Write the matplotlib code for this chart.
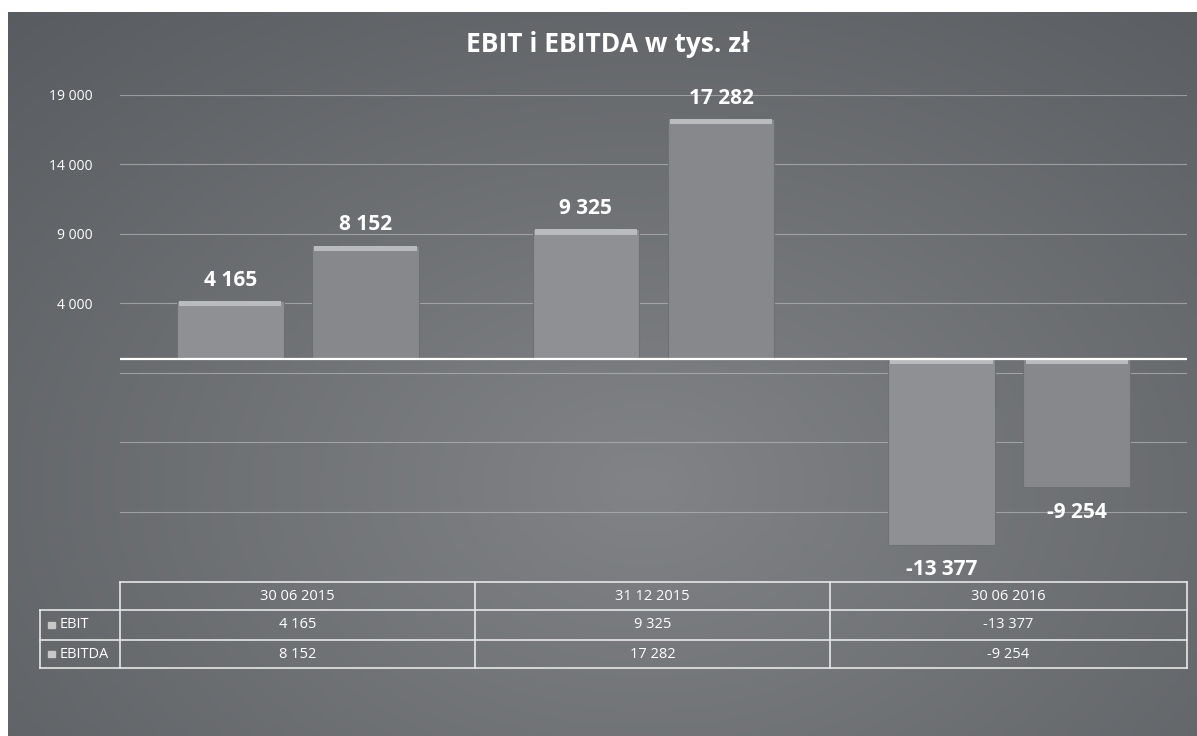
import numpy as np
import matplotlib.pyplot as plt
from matplotlib.patches import Rectangle

plt.rcParams['font.family'] = ['Open Sans', 'DejaVu Sans']

# --------------------------------------------------------------------------
# data
categories = ['30 06 2015', '31 12 2015', '30 06 2016']
series = ['EBIT', 'EBITDA']
ebit = [4165, 9325, -13377]
ebitda = [8152, 17282, -9254]
grid_ticks = [19000, 14000, 9000, 4000, -1000, -6000, -11000]
tick_labels = ['19 000', '14 000', '9 000', '4 000', '', '', '']


def fmt(v):
    s = f'{abs(v):,}'.replace(',', ' ')
    return '-' + s if v < 0 else s


W, H = 1197, 736
fig = plt.figure(figsize=(W / 100, H / 100), dpi=100, facecolor='white')

# background panel with soft gradient
bg = fig.add_axes([8 / W, 0, 1 - 8 / W, 1 - 12 / H])
yy, xx = np.mgrid[0:200, 0:300]
r = np.sqrt(((xx - 160) / 300) ** 2 + ((yy - 130) / 230) ** 2)
shade = np.clip(1 - 1.15 * r, 0, 1)
img = np.empty((200, 300, 3))
lo = np.array([0x54, 0x57, 0x5b]) / 255
hi = np.array([0x81, 0x83, 0x86]) / 255
for c in range(3):
    img[:, :, c] = lo[c] + (hi[c] - lo[c]) * shade
bg.imshow(img, aspect='auto', extent=[0, 1, 0, 1], origin='upper')
bg.set_axis_off()

# main chart
ax = fig.add_axes([120 / W, 1 - 581 / H, (1187 - 120) / W, (581 - 95) / H])
ax.patch.set_alpha(0)
ax.set_ylim(-16000, 19000)
ax.set_xlim(-0.5, 2.5)

x = np.arange(len(categories))
bw = 0.30
off = 0.19
for vals, dx, col in [(ebit, -off, '#8e9093'), (ebitda, off, '#86888b')]:
    ax.bar(x + dx, vals, bw, color=col, edgecolor='#6e7073', linewidth=0.8, zorder=3)
    # light bevel along the upper edge of each bar
    tops = [max(v, 0) for v in vals]
    ax.bar(x + dx, [-380] * len(vals), bw * 0.96, bottom=tops,
           color='#b9bbbd', linewidth=0, zorder=4)
    for xi, v in zip(x + dx, vals):
        if v >= 0:
            ax.text(xi, v + 1500, fmt(v), ha='center', va='center', color='white',
                    fontsize=15, fontweight='bold')
        else:
            ax.text(xi, v - 1800, fmt(v), ha='center', va='center', color='white',
                    fontsize=15, fontweight='bold')

for t in grid_ticks:
    ax.axhline(t, color='#b4b6b8', linewidth=0.8, alpha=0.7, zorder=1)
ax.axhline(0, color='white', linewidth=1.6, zorder=5)

ax.set_yticks(grid_ticks)
ax.set_yticklabels(tick_labels, color='white', fontsize=10)
ax.tick_params(axis='y', length=0, pad=20)
ax.set_xticks([])
for s in ax.spines.values():
    s.set_visible(False)

fig.text(608 / W, 1 - 45 / H, 'EBIT i EBITDA w tys. zł', ha='center', va='center',
         color='white', fontsize=19, fontweight='bold')

# data table below the chart
ov = fig.add_axes([0, 0, 1, 1])
ov.set_xlim(0, W)
ov.set_ylim(H, 0)
ov.set_axis_off()
ov.patch.set_alpha(0)

col_x = [120, 475, 830, 1187]
row_y = [582, 610, 640, 668]
lc = '#e6e6e6'
ov.plot([col_x[0], col_x[-1]], [row_y[0], row_y[0]], color=lc, lw=1.2)
for yv in row_y[1:]:
    ov.plot([40, col_x[-1]], [yv, yv], color=lc, lw=1.2)
ov.plot([40, 40], [row_y[1], row_y[-1]], color=lc, lw=1.2)
for xv in col_x:
    ov.plot([xv, xv], [row_y[0], row_y[-1]], color=lc, lw=1.2)

for i, cat in enumerate(categories):
    cx = (col_x[i] + col_x[i + 1]) / 2
    ov.text(cx, (row_y[0] + row_y[1]) / 2, cat, ha='center', va='center',
            color='white', fontsize=10.5)
    for j, vals in enumerate([ebit, ebitda]):
        ov.text(cx, (row_y[j + 1] + row_y[j + 2]) / 2, fmt(vals[i]), ha='center',
                va='center', color='white', fontsize=10.5)

for j, name in enumerate(series):
    yc = (row_y[j + 1] + row_y[j + 2]) / 2
    ov.add_patch(Rectangle((48, yc - 3), 7, 6, color='#c8c8c8'))
    ov.text(60, yc, name, ha='left', va='center', color='white', fontsize=10.5)

fig.savefig('out.png', dpi=100, facecolor='white')
plt.close(fig)
